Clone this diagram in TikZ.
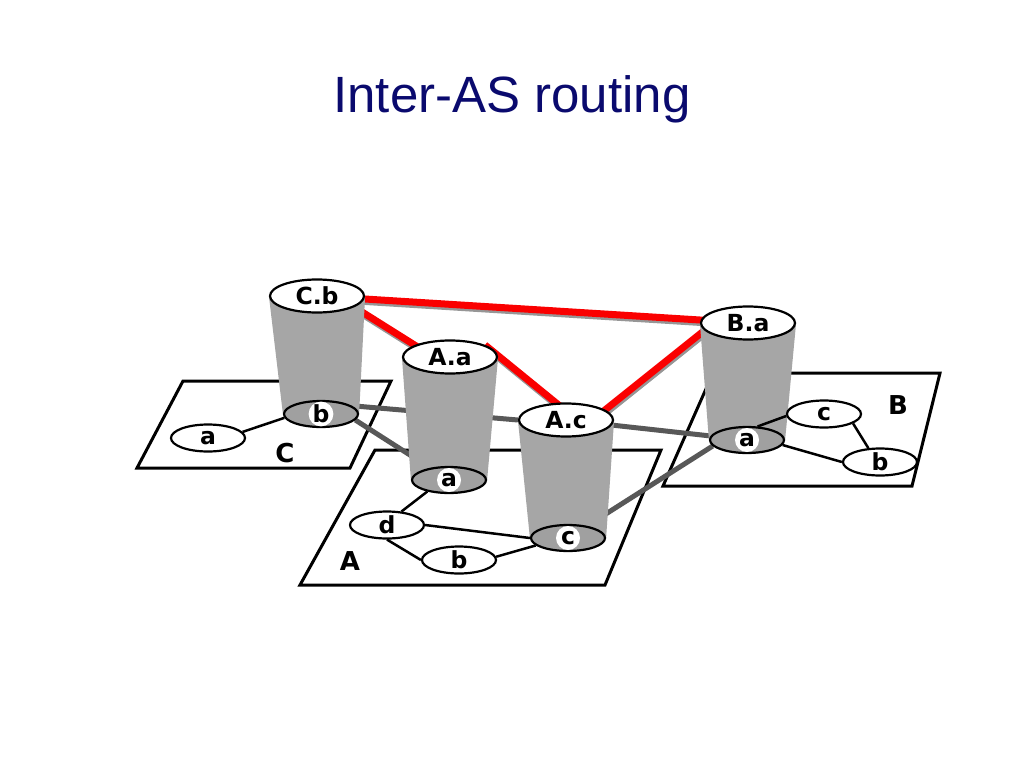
\documentclass[tikz,border=0pt]{standalone}
\usepackage{fontspec}
\setmainfont{Liberation Sans}
\newfontfamily\lblfont{DejaVu Sans}
\usetikzlibrary{shapes.geometric,calc}
\definecolor{titleblue}{RGB}{10,10,110}
\definecolor{bodygray}{RGB}{166,166,166}
\definecolor{gwgray}{RGB}{160,160,160}
\definecolor{linkgray}{RGB}{88,88,88}
\definecolor{shadowgray}{RGB}{150,150,150}
\definecolor{bgpred}{RGB}{250,0,0}
\pgfdeclarelayer{boxlayer}
\pgfdeclarelayer{bodylayer}
\pgfsetlayers{boxlayer,bodylayer,main}
\begin{document}
\begin{tikzpicture}[x=1pt,y=-1pt,
  lbl/.style={font=\lblfont\bfseries\fontsize{23.5}{24}\selectfont},
  toprouter/.style={ellipse,draw,line width=2.2pt,fill=white,inner sep=0pt,
    minimum width=94pt,minimum height=33pt,lbl},
  gwrouter/.style={ellipse,draw,line width=2.2pt,fill=gwgray,inner sep=0pt,
    minimum width=74pt,minimum height=26pt},
  plainrouter/.style={ellipse,draw,line width=2.2pt,fill=white,inner sep=0pt,
    minimum width=74pt,minimum height=27pt,lbl},
  whitedot/.style={circle,fill=white,inner sep=0pt,minimum size=24pt,lbl},
  aslabel/.style={font=\lblfont\bfseries\fontsize{26}{26}\selectfont},
  asbox/.style={draw,line width=3pt,fill=white,line join=miter},
  body/.style={fill=bodygray},
  intra/.style={line width=2.5pt,black},
  inter/.style={line width=5pt,linkgray},
  bgp/.style={line width=7pt,bgpred},
  bgpshadow/.style={line width=7pt,shadowgray,transform canvas={xshift=1pt,yshift=-2.5pt}},
]
\useasboundingbox (0,0) rectangle (1024,768);

% title
\node[anchor=base,text=titleblue,font=\fontsize{51}{51}\selectfont] (title) at (512,112) {Inter-AS routing};

% routers
\node[toprouter] (Cb) at (317,296) {C.b};
\node[gwrouter] (Cbb) at (321,414) {};
\node[whitedot] (CbbL) at (Cbb) {b};
\node[toprouter] (Aa) at (450,357) {A.a};
\node[gwrouter] (Aab) at (449,480) {};
\node[whitedot] (AabL) at (Aab) {a};
\node[toprouter] (Ac) at (566,420) {A.c};
\node[gwrouter] (Acb) at (568,538) {};
\node[whitedot] (AcbL) at (Acb) {c};
\node[toprouter] (Ba) at (748,323) {B.a};
\node[gwrouter] (Bab) at (747,440) {};
\node[whitedot] (BabL) at (Bab) {a};
\node[plainrouter] (Ca) at (208,438) {a};
\node[plainrouter] (Ad) at (387,525) {d};
\node[plainrouter] (Ab) at (459,560) {b};
\node[plainrouter] (Bc) at (824,414) {c};
\node[plainrouter] (Bb) at (880,462) {b};

% cylinder bodies
\begin{pgfonlayer}{bodylayer}
\fill[body] (Cb.west) -- (Cb.east) -- (Cbb.east) -- (Cbb.west) -- cycle;
\fill[body] (Aa.west) -- (Aa.east) -- (Aab.east) -- (Aab.west) -- cycle;
\fill[body] (Ac.west) -- (Ac.east) -- (Acb.east) -- (Acb.west) -- cycle;
\fill[body] (Ba.west) -- (Ba.east) -- (Bab.east) -- (Bab.west) -- cycle;
\end{pgfonlayer}

% AS boxes, inter-AS links, BGP sessions
\begin{pgfonlayer}{boxlayer}
\draw[asbox] (183,381) -- (391,381) -- (350,468) -- (137,468) -- cycle;
\draw[asbox] (375,450) -- (661,450) -- (605,585) -- (300,585) -- cycle;
\draw[asbox] (713,373) -- (940,373) -- (912,486) -- (663,486) -- cycle;
\node[aslabel] (labC) at (285,453) {C};
\node[aslabel] (labA) at (350,561) {A};
\node[aslabel] (labB) at (898,405) {B};

\draw[inter] (Cbb.15) -- (Ac.west);
\draw[inter] (Cbb.-10) -- (Aab.center);
\draw[inter] (Ac.center) -- (Bab.center);
\draw[inter] (Acb.center) -- (Bab.190);

\draw[bgpshadow] (Cb.center) -- (Ba.center);
\draw[bgpshadow] ([shift={(10,-6)}]Cb.center) -- ([shift={(-10,4)}]Aa.center);
\draw[bgpshadow] ([shift={(35,-12)}]Aa.center) -- ([shift={(0,-9)}]Ac.center);
\draw[bgpshadow] ([shift={(24,2)}]Ac.center) -- ([shift={(-28,-5)}]Ba.center);
\draw[bgp] (Cb.center) -- (Ba.center);
\draw[bgp] ([shift={(10,-6)}]Cb.center) -- ([shift={(-10,4)}]Aa.center);
\draw[bgp] ([shift={(35,-12)}]Aa.center) -- ([shift={(0,-9)}]Ac.center);
\draw[bgp] ([shift={(24,2)}]Ac.center) -- ([shift={(-28,-5)}]Ba.center);
\end{pgfonlayer}

% intra-AS links
\draw[intra] (Ca.10) -- (Cbb.186);
\draw[intra] (Aab.208) -- (Ad.43);
\draw[intra] (Ad.0) -- (Acb.180);
\draw[intra] (Ad.south) -- (Ab.180);
\draw[intra] (Ab.5) -- (Acb.193);
\draw[intra] (Bab.52) -- (Bc.183);
\draw[intra] (Bc.-18) -- (Bb.130);
\draw[intra] (Bab.-8) -- (Bb.180);
\end{tikzpicture}
\end{document}
